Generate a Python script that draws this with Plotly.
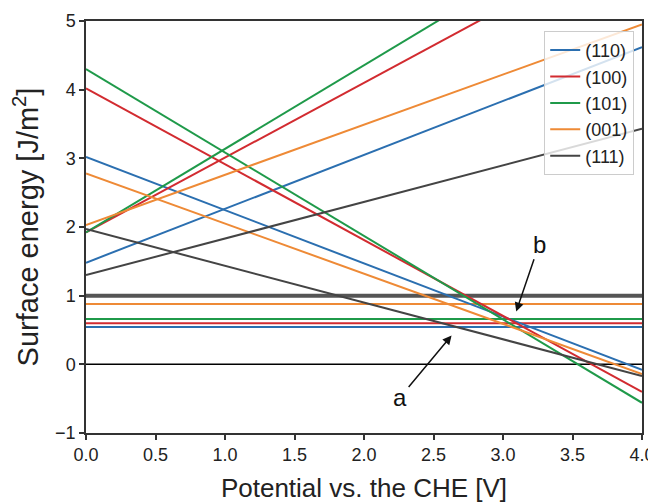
import plotly.graph_objects as go

facets = ["(110)", "(100)", "(101)", "(001)", "(111)"]
colors = ["#2b6fb0", "#d22b30", "#1f9a4a", "#ee8a36", "#444444"]
x_ends = [0.0, 4.0]
rising_start = [1.48, 1.92, 1.92, 2.03, 1.30]
rising_end = [4.62, 6.28, 6.79, 4.95, 3.43]
falling_start = [3.02, 4.02, 4.30, 2.78, 1.97]
falling_end = [-0.08, -0.40, -0.56, -0.14, -0.17]
flat_value = [0.545, 0.60, 0.66, 0.88, 1.00]
flat_width = [2, 2, 2, 2, 4]

fig = go.Figure()

# zero reference line
fig.add_trace(go.Scatter(x=x_ends, y=[0, 0], mode="lines",
                         line=dict(color="black", width=1.5),
                         showlegend=False, hoverinfo="skip"))

for i, name in enumerate(facets):
    c = colors[i]
    fig.add_trace(go.Scatter(x=x_ends, y=[flat_value[i], flat_value[i]], mode="lines",
                             line=dict(color=c if i < 4 else "#555555", width=flat_width[i]),
                             legendgroup=name, showlegend=False))
for i, name in enumerate(facets):
    c = colors[i]
    fig.add_trace(go.Scatter(x=x_ends, y=[rising_start[i], rising_end[i]], mode="lines",
                             line=dict(color=c, width=2), name=name,
                             legendgroup=name, showlegend=True))
    fig.add_trace(go.Scatter(x=x_ends, y=[falling_start[i], falling_end[i]], mode="lines",
                             line=dict(color=c, width=2),
                             legendgroup=name, showlegend=False))

axis_common = dict(showline=True, linecolor="#333333", linewidth=1.5, mirror=True,
                   ticks="outside", ticklen=5, tickwidth=1.5, tickcolor="#333333",
                   showgrid=False, zeroline=False, automargin=False,
                   tickfont=dict(size=18, color="#222222"))

# page body adds an 8px offset, so the figure is 8px smaller than the window
fig.update_layout(
    width=648, height=495,
    margin=dict(l=78, r=14, t=13, b=70),
    paper_bgcolor="white", plot_bgcolor="white",
    font=dict(family="Liberation Sans, Arial, sans-serif", color="#222222"),
    xaxis=dict(range=[0, 4], dtick=0.5, tickformat=".1f",
               title=dict(text="Potential vs. the CHE [V]", font=dict(size=26), standoff=15),
               **axis_common),
    yaxis=dict(range=[-1, 5], dtick=1,
               title=dict(text="Surface energy [J/m<sup>2</sup>]", font=dict(size=29), standoff=24),
               **axis_common),
    legend=dict(x=0.986, y=0.976, xanchor="right", yanchor="top",
                bgcolor="rgba(255,255,255,0.8)", bordercolor="#cccccc", borderwidth=1,
                font=dict(size=18), tracegroupgap=0),
    showlegend=True,
)

fig.add_annotation(x=3.095, y=0.77, ax=3.26, ay=1.75, xref="x", yref="y",
                   axref="x", ayref="y", text="b", showarrow=True,
                   font=dict(size=24, color="#111111"),
                   arrowhead=2, arrowsize=1.2, arrowwidth=1.5, arrowcolor="#111111")
fig.add_annotation(x=2.63, y=0.42, ax=2.26, ay=-0.48, xref="x", yref="y",
                   axref="x", ayref="y", text="a", showarrow=True,
                   font=dict(size=24, color="#111111"),
                   arrowhead=2, arrowsize=1.2, arrowwidth=1.5, arrowcolor="#111111")

fig.write_html("out.html")
